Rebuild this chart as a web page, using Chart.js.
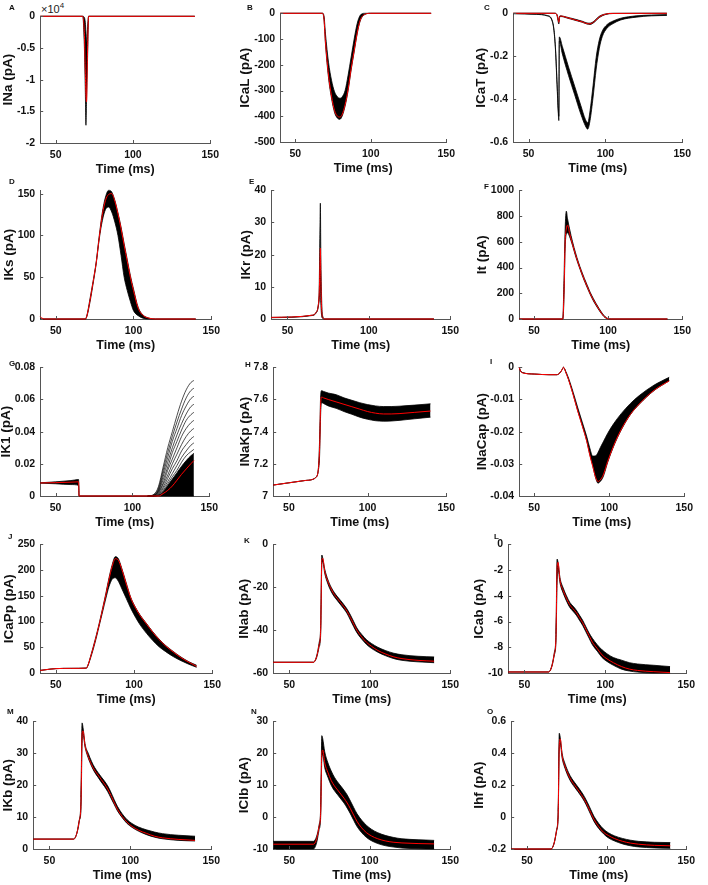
<!DOCTYPE html>
<html>
<head>
<meta charset="utf-8">
<title>Ionic currents</title>
<script src="https://cdn.jsdelivr.net/npm/chart.js@4.4.1/dist/chart.umd.min.js"></script>
<style>
  body { margin: 0; width: 708px; height: 885px; background: #fff; position: relative; overflow: hidden; font-family: "Liberation Sans", Arial, sans-serif; }
  canvas { position: absolute; }
  .tag { position: absolute; font-size: 8px; font-weight: bold; color: #111; }
  .exp { position: absolute; font-size: 11px; color: #222; }
  .exp sup { font-size: 8px; }
</style>
</head>
<body>
<div class="exp" style="left:41px;top:1px">×10<sup>4</sup></div>
<script>
const FONT = '"Liberation Sans", Arial, sans-serif';

// shared x axis (ms)
const xTicks = [50, 100, 150];
const xLabels = ['50', '100', '150'];

// A  INa
const aT = [40, 67.5, 68.6, 69.2, 69.6, 70.0, 70.5, 70.9, 71.3, 140];
const aLo = [0, 0, -5000, -12000, -17200, -13000, -8000, -4000, 0, 0];
const aHi = [0, 0, -200, -1000, -2500, -4000, -2500, -800, 0, 0];
const aRed = [0, 0, -3000, -9000, -12500, -13500, -7000, -2500, 0, 0];
const aTicks = [-20000, -15000, -10000, -5000, 0];
const aLabels = ['-2', '-1.5', '-1', '-0.5', '0'];

// B  ICaL
const bT = [40, 68, 69, 70, 72, 74, 76, 78, 79.5, 81, 83, 85, 87, 89, 91, 93, 96, 100, 140];
const bLo = [0, 0, -25, -120, -250, -330, -385, -408, -412, -400, -360, -300, -220, -150, -80, -30, -5, 0, 0];
const bHi = [0, 0, -10, -80, -190, -260, -305, -325, -330, -325, -300, -240, -170, -100, -40, -8, 0, 0, 0];
const bRed = [0, 0, -20, -112, -240, -322, -378, -400, -403, -394, -355, -295, -215, -145, -76, -27, -4, 0, 0];
const bTicks = [-500, -400, -300, -200, -100, 0];
const bLabels = ['-500', '-400', '-300', '-200', '-100', '0'];

// C  ICaT (large group + small group)
const cT = [40, 55, 62, 65, 66.5, 67.5, 68.5, 69.3, 69.7, 70.0, 72, 76, 80, 84, 87, 88.5, 90, 92, 94, 96, 98, 101, 105, 110, 120, 130, 140];
const cLo = [-0.002, -0.005, -0.012, -0.03, -0.08, -0.17, -0.33, -0.46, -0.50, -0.13, -0.19, -0.29, -0.38, -0.47, -0.525, -0.54, -0.50, -0.39, -0.26, -0.165, -0.108, -0.07, -0.048, -0.031, -0.018, -0.012, -0.01];
const cHi = [-0.001, -0.004, -0.01, -0.026, -0.074, -0.16, -0.315, -0.445, -0.48, -0.11, -0.155, -0.25, -0.34, -0.43, -0.495, -0.51, -0.455, -0.335, -0.205, -0.125, -0.082, -0.053, -0.036, -0.023, -0.012, -0.008, -0.006];
const c2T = [40, 67, 68.5, 69.3, 69.7, 70.2, 71, 75, 80, 85, 88, 90, 93, 96, 100, 105, 140];
const c2Lo = [0, 0, -0.01, -0.04, -0.05, -0.02, -0.015, -0.022, -0.032, -0.042, -0.05, -0.052, -0.04, -0.02, -0.006, -0.001, 0];
const c2Hi = [0, 0, -0.006, -0.025, -0.035, -0.013, -0.012, -0.018, -0.027, -0.037, -0.045, -0.046, -0.034, -0.014, -0.003, 0, 0];
const cRed = [0, 0, -0.008, -0.032, -0.042, -0.016, -0.013, -0.02, -0.03, -0.04, -0.048, -0.049, -0.037, -0.017, -0.004, -0.0005, 0];
const cTicks = [-0.6, -0.4, -0.2, 0];
const cLabels = ['-0.6', '-0.4', '-0.2', '0'];

// D  IKs
const dT = [40, 41, 43, 69, 70, 72, 74, 76, 78, 80, 82, 84, 86, 88, 90, 92, 94, 96, 98, 100, 103, 106, 110, 114, 140];
const dHi = [0, 0, 0, 0, 4, 24, 45, 68, 100, 128, 146, 154, 152, 142, 127, 110, 90, 71, 52, 36, 14, 5, 1, 0, 0];
const dLo = [0, 0, 0, 0, 3, 20, 42, 66, 96, 118, 131, 134, 128, 116, 100, 76, 50, 34, 21, 10, 4, 1, 0, 0, 0];
const dRed = [3, 1.2, 0, 0, 3.5, 22, 44, 67, 98, 125, 142, 149, 150, 141, 126, 108, 88, 69, 50, 34, 13, 4.5, 1, 0, 0];
const dTicks = [0, 50, 100, 150];
const dLabels = ['0', '50', '100', '150'];

// E  IKr
const eT = [40, 65.5, 67.5, 68.8, 69.5, 70.0, 70.2, 70.5, 71, 71.6, 73, 140];
const eHi = [0.5, 1.2, 2, 4, 10, 30, 36, 20, 6, 1, 0, 0];
const eLo = [0.4, 1.1, 1.8, 3.5, 6, 10, 12, 5, 1, 0.2, 0, 0];
const eRed = [0.5, 1.2, 2, 3.8, 8, 18, 22, 12, 3, 0.5, 0, 0];
const eTicks = [0, 10, 20, 30, 40];
const eLabels = ['0', '10', '20', '30', '40'];

// F  It
const fT = [40, 69.4, 70.2, 71, 71.8, 72.6, 74, 76, 78, 80, 82, 84, 86, 88, 90, 92, 94, 96, 98, 100, 102, 140];
const fHi = [0, 0, 300, 700, 838, 780, 700, 600, 515, 440, 375, 315, 260, 205, 160, 118, 80, 45, 18, 3, 0, 0];
const fLo = [0, 0, 150, 550, 660, 670, 640, 570, 490, 420, 355, 295, 240, 188, 142, 102, 66, 34, 10, 1, 0, 0];
const fRed = [0, 0, 200, 600, 700, 730, 665, 580, 500, 428, 363, 303, 248, 195, 150, 110, 72, 38, 13, 2, 0, 0];
const fTicks = [0, 200, 400, 600, 800, 1000];
const fLabels = ['0', '200', '400', '600', '800', '1000'];

// G  IK1 (dense band + fan of single traces)
const gT = [40, 50, 60, 65, 65.3, 110, 114, 117, 120, 123, 126, 129, 132, 135, 138, 140];
const gHi = [0.0082, 0.0088, 0.0096, 0.0102, 0, 0, 0, 0.0005, 0.0028, 0.0065, 0.0105, 0.0145, 0.0185, 0.022, 0.025, 0.0265];
const gLo = [0.008, 0.0076, 0.0071, 0.0066, 0, 0, 0, 0, 0, 0, 0, 0, 0, 0, 0, 0];
const gRed = [0.0081, 0.0083, 0.0086, 0.0088, 0, 0, 0, 0, 0.0015, 0.0035, 0.0062, 0.0098, 0.0135, 0.0168, 0.02, 0.022];
const gFanT = [110, 114, 117, 120, 123, 126, 129, 132, 135, 138, 140];
const gF1 = [0, 0.001, 0.006, 0.018, 0.030, 0.040, 0.050, 0.059, 0.066, 0.0705, 0.0718];
const gF2 = [0, 0.0008, 0.005, 0.016, 0.027, 0.037, 0.046, 0.054, 0.061, 0.0655, 0.067];
const gF3 = [0, 0.0006, 0.004, 0.014, 0.024, 0.034, 0.042, 0.050, 0.056, 0.0605, 0.062];
const gF4 = [0, 0.0004, 0.0035, 0.012, 0.021, 0.030, 0.038, 0.045, 0.051, 0.0555, 0.057];
const gF5 = [0, 0.0003, 0.003, 0.010, 0.018, 0.027, 0.034, 0.041, 0.047, 0.0505, 0.052];
const gF6 = [0, 0.0002, 0.0025, 0.008, 0.016, 0.023, 0.030, 0.037, 0.042, 0.0455, 0.047];
const gF7 = [0, 0.0001, 0.002, 0.007, 0.013, 0.020, 0.026, 0.032, 0.037, 0.0405, 0.042];
const gF8 = [0, 0, 0.0015, 0.0055, 0.011, 0.017, 0.022, 0.028, 0.032, 0.0355, 0.037];
const gF9 = [0, 0, 0.001, 0.0045, 0.009, 0.014, 0.019, 0.024, 0.028, 0.0315, 0.033];
const gF10 = [0, 0, 0.0008, 0.0035, 0.0075, 0.012, 0.016, 0.021, 0.025, 0.0275, 0.029];
const gTicks = [0, 0.02, 0.04, 0.06, 0.08];
const gLabels = ['0', '0.02', '0.04', '0.06', '0.08'];

// H  INaKp
const hT = [40, 50, 60, 65, 67, 68.5, 69.5, 70.2, 70.8, 72, 75, 80, 85, 90, 95, 100, 105, 110, 115, 120, 130, 140];
const hHi = [7.068, 7.082, 7.096, 7.103, 7.115, 7.15, 7.35, 7.63, 7.655, 7.65, 7.64, 7.63, 7.61, 7.595, 7.58, 7.568, 7.56, 7.556, 7.556, 7.558, 7.565, 7.573];
const hLo = [7.068, 7.082, 7.096, 7.103, 7.115, 7.15, 7.25, 7.52, 7.58, 7.575, 7.56, 7.545, 7.525, 7.508, 7.49, 7.477, 7.468, 7.465, 7.466, 7.47, 7.48, 7.49];
const hRed = [7.068, 7.082, 7.096, 7.103, 7.115, 7.15, 7.3, 7.58, 7.615, 7.61, 7.6, 7.585, 7.57, 7.555, 7.54, 7.525, 7.515, 7.51, 7.51, 7.512, 7.52, 7.528];
const hTicks = [7, 7.2, 7.4, 7.6, 7.8];
const hLabels = ['7', '7.2', '7.4', '7.6', '7.8'];

// I  INaCap
const iT = [40, 41, 42, 50, 60, 65, 67, 68.5, 69.5, 71, 73, 76, 79, 82, 85, 87, 89, 91, 92.5, 94, 96, 99, 103, 108, 114, 120, 130, 140];
const iLo = [0, -0.0012, -0.0016, -0.0021, -0.0023, -0.0023, -0.0018, -0.0008, 0, -0.0015, -0.004, -0.0085, -0.0135, -0.018, -0.0228, -0.027, -0.0305, -0.0345, -0.036, -0.0355, -0.034, -0.0295, -0.0245, -0.0195, -0.0148, -0.0115, -0.0072, -0.0042];
const iHi = [0, -0.0012, -0.0016, -0.0021, -0.0023, -0.0023, -0.0018, -0.0008, 0, -0.0012, -0.0035, -0.0078, -0.0125, -0.017, -0.0215, -0.025, -0.0276, -0.0275, -0.0265, -0.025, -0.0232, -0.0205, -0.0175, -0.0144, -0.0113, -0.0088, -0.0055, -0.0031];
const iRed = [0, -0.0013, -0.0017, -0.0021, -0.0023, -0.0023, -0.0018, -0.0008, 0, -0.0015, -0.004, -0.0086, -0.0136, -0.0182, -0.023, -0.0272, -0.0308, -0.0343, -0.0355, -0.035, -0.0335, -0.0292, -0.0243, -0.0193, -0.0147, -0.0114, -0.0071, -0.0042];
const iTicks = [-0.04, -0.03, -0.02, -0.01, 0];
const iLabels = ['-0.04', '-0.03', '-0.02', '-0.01', '0'];

// J  ICaPp
const jT = [40, 45, 50, 60, 69.5, 70.5, 72, 74, 76, 78, 80, 82, 84, 86, 88, 90, 92, 95, 98, 101, 104, 108, 112, 116, 120, 125, 130, 135, 140];
const jHi = [5, 7, 8.5, 9, 9.5, 15, 30, 52, 75, 100, 127, 155, 185, 210, 226, 222, 205, 175, 146, 127, 112, 96, 80, 66, 54, 42, 31, 22, 15];
const jLo = [5, 7, 8.5, 9, 9.5, 14, 27, 47, 70, 95, 120, 145, 168, 182, 185, 178, 165, 145, 125, 108, 93, 77, 63, 51, 42, 32, 24, 17, 11];
const jRed = [5, 7, 8.5, 9, 9.5, 15, 29, 50, 73, 98, 125, 152, 182, 207, 222, 219, 203, 173, 145, 126, 111, 95, 79, 65, 53, 41, 30, 21, 13];
const jTicks = [0, 50, 100, 150, 200, 250];
const jLabels = ['0', '50', '100', '150', '200', '250'];

// background currents K..O share one time base
const bgT = [40, 65, 67, 68.5, 69.5, 70.2, 70.8, 72, 74, 76, 78, 80, 82, 84, 86, 88, 90, 92, 95, 98, 101, 105, 110, 115, 120, 130, 140];

// K  INab
const kHi = [-55, -55, -52, -46, -38, -5, -6.5, -11.5, -16.5, -20, -22.5, -24.5, -26.3, -28.2, -30.3, -33, -36, -39, -42, -44.5, -46.2, -48, -49.6, -50.8, -51.5, -52.2, -52.5];
const kLo = [-55, -55, -52.8, -48, -42, -10, -8, -13.5, -18.5, -22, -24.5, -26.4, -28.3, -30.2, -32.4, -35.4, -38.4, -41.2, -44.2, -46.7, -48.5, -50.3, -52, -53.3, -54.1, -54.8, -55.2];
const kRed = [-55, -55, -52.4, -47, -40, -7.5, -6.5, -12.6, -17.4, -20.8, -23.5, -25.4, -27.3, -29.2, -31.4, -34.2, -37.2, -40.1, -43.2, -45.7, -47.5, -49.5, -51.2, -52.5, -53.3, -54.1, -54.5];
const kTicks = [-60, -40, -20, 0];
const kLabels = ['-60', '-40', '-20', '0'];

// L  ICab
const lHi = [-9.92, -9.92, -9.4, -8.4, -7.0, -1.15, -1.4, -2.6, -3.4, -4.0, -4.5, -4.8, -5.1, -5.5, -5.9, -6.4, -6.9, -7.3, -7.8, -8.2, -8.5, -8.8, -9.0, -9.2, -9.3, -9.4, -9.5];
const lLo = [-9.92, -9.92, -9.5, -8.6, -7.6, -3.0, -1.9, -3.0, -3.8, -4.4, -4.9, -5.2, -5.5, -5.9, -6.3, -6.8, -7.3, -7.8, -8.3, -8.8, -9.1, -9.4, -9.7, -9.85, -9.93, -10, -10];
const lRed = [-9.92, -9.92, -9.46, -8.5, -7.3, -1.9, -1.4, -2.8, -3.6, -4.2, -4.7, -5.0, -5.3, -5.7, -6.1, -6.6, -7.1, -7.6, -8.1, -8.6, -8.9, -9.2, -9.5, -9.7, -9.8, -9.9, -9.97];
const lTicks = [-10, -8, -6, -4, -2, 0];
const lLabels = ['-10', '-8', '-6', '-4', '-2', '0'];

// M  IKb
const mHi = [3.1, 3.1, 5, 9, 16, 39.5, 38, 33, 30, 27.5, 25.5, 24, 22.6, 21.3, 19.8, 17.8, 15.5, 13.4, 11, 9.2, 8, 6.9, 6, 5.3, 4.8, 4.3, 4.0];
const mLo = [3.1, 3.1, 5, 9, 12, 33, 36, 32, 28.5, 26, 24, 22.5, 21, 19.6, 18, 16, 14, 12, 9.8, 8.0, 6.8, 5.6, 4.5, 3.7, 3.2, 2.7, 2.5];
const mRed = [3.1, 3.1, 5, 9, 14, 36, 37, 32.5, 29, 26.5, 24.6, 23.2, 21.8, 20.4, 18.8, 16.8, 14.6, 12.5, 10.2, 8.4, 7.1, 5.9, 4.9, 4.0, 3.5, 3.0, 2.7];
const mTicks = [0, 10, 20, 30, 40];
const mLabels = ['0', '10', '20', '30', '40'];

// N  IClb
const nHi = [-7.6, -7.6, -6, -2.5, 3, 25.5, 24.5, 20.5, 17, 14.5, 12.5, 11, 9.7, 8.4, 6.9, 5, 3, 1.1, -1, -2.6, -3.8, -4.9, -5.8, -6.4, -6.8, -7.1, -7.3];
const nLo = [-10, -10, -8, -4, 0, 18, 19.5, 15.5, 12.5, 10, 8.3, 7, 5.7, 4.4, 2.8, 1, -1, -2.9, -4.9, -6.4, -7.4, -8.3, -9, -9.4, -9.7, -9.9, -10];
const nRed = [-8.5, -8.5, -6.8, -3, 1.5, 20, 21, 17, 14, 11.5, 9.8, 8.5, 7.2, 5.9, 4.4, 2.6, 0.6, -1.3, -3.4, -4.9, -5.9, -6.8, -7.5, -7.9, -8.1, -8.3, -8.4];
const nTicks = [-10, 0, 10, 20, 30];
const nLabels = ['-10', '0', '10', '20', '30'];

// O  Ihf
const oHi = [-0.2, -0.2, -0.16, -0.08, 0.03, 0.525, 0.5, 0.4, 0.33, 0.28, 0.243, 0.215, 0.188, 0.16, 0.128, 0.09, 0.047, 0.005, -0.04, -0.075, -0.098, -0.118, -0.134, -0.145, -0.152, -0.158, -0.16];
const oLo = [-0.2, -0.2, -0.165, -0.09, 0, 0.42, 0.46, 0.37, 0.3, 0.25, 0.213, 0.185, 0.158, 0.13, 0.098, 0.058, 0.015, -0.027, -0.072, -0.105, -0.13, -0.15, -0.168, -0.18, -0.187, -0.193, -0.196];
const oRed = [-0.2, -0.2, -0.162, -0.083, 0.016, 0.45, 0.49, 0.385, 0.313, 0.263, 0.226, 0.198, 0.17, 0.142, 0.11, 0.071, 0.028, -0.014, -0.06, -0.095, -0.115, -0.135, -0.152, -0.163, -0.17, -0.177, -0.18];
const oTicks = [-0.2, 0, 0.2, 0.4, 0.6];
const oLabels = ['-0.2', '0', '0.2', '0.4', '0.6'];

// x,y = top-left of plot area; w,h = plot size; tx,ty = panel letter
const panels = [
  { tag: 'A', tx: 12, ty: 8, x: 40, y: 16, w: 172, h: 128, title: 'INa (pA)', min: -20000, max: 0, ticks: aTicks, labels: aLabels, bands: [[aT, aLo, aHi]], red: [aT, aRed] },
  { tag: 'B', tx: 250, ty: 8, x: 280, y: 13, w: 168, h: 130, title: 'ICaL (pA)', min: -500, max: 0, ticks: bTicks, labels: bLabels, bands: [[bT, bLo, bHi]], red: [bT, bRed] },
  { tag: 'C', tx: 487, ty: 8, x: 513, y: 13, w: 171, h: 130, title: 'ICaT (pA)', min: -0.6, max: 0, ticks: cTicks, labels: cLabels, bands: [[cT, cLo, cHi], [c2T, c2Lo, c2Hi]], red: [c2T, cRed] },
  { tag: 'D', tx: 12, ty: 182, x: 40, y: 190, w: 173, h: 130, title: 'IKs (pA)', min: 0, max: 154, ticks: dTicks, labels: dLabels, bands: [[dT, dLo, dHi]], red: [dT, dRed] },
  { tag: 'E', tx: 252, ty: 182, x: 271, y: 190, w: 181, h: 130, title: 'IKr (pA)', min: 0, max: 40, ticks: eTicks, labels: eLabels, bands: [[eT, eLo, eHi]], red: [eT, eRed] },
  { tag: 'F', tx: 487, ty: 187, x: 519, y: 190, w: 165, h: 130, title: 'It (pA)', min: 0, max: 1000, ticks: fTicks, labels: fLabels, bands: [[fT, fLo, fHi]], red: [fT, fRed] },
  { tag: 'G', tx: 12, ty: 364, x: 40, y: 367, w: 171, h: 130, title: 'IK1 (pA)', min: 0, max: 0.08, ticks: gTicks, labels: gLabels, bands: [[gT, gLo, gHi]], red: [gT, gRed],
    lines: [gF1, gF2, gF3, gF4, gF5, gF6, gF7, gF8, gF9, gF10].map(v => [gFanT, v]) },
  { tag: 'H', tx: 248, ty: 365, x: 273, y: 367, w: 175, h: 130, title: 'INaKp (pA)', min: 7, max: 7.8, ticks: hTicks, labels: hLabels, bands: [[hT, hLo, hHi]], red: [hT, hRed] },
  { tag: 'I', tx: 493, ty: 362, x: 519, y: 367, w: 167, h: 130, title: 'INaCap (pA)', min: -0.04, max: 0, ticks: iTicks, labels: iLabels, bands: [[iT, iLo, iHi]], red: [iT, iRed] },
  { tag: 'J', tx: 11, ty: 537, x: 40, y: 544, w: 174, h: 130, title: 'ICaPp (pA)', min: 0, max: 250, ticks: jTicks, labels: jLabels, bands: [[jT, jLo, jHi]], red: [jT, jRed] },
  { tag: 'K', tx: 247, ty: 541, x: 273, y: 544, w: 179, h: 130, title: 'INab (pA)', min: -60, max: 0, ticks: kTicks, labels: kLabels, bands: [[bgT, kLo, kHi]], red: [bgT, kRed] },
  { tag: 'L', tx: 497, ty: 537, x: 508, y: 544, w: 180, h: 130, title: 'ICab (pA)', min: -10, max: 0, ticks: lTicks, labels: lLabels, bands: [[bgT, lLo, lHi]], red: [bgT, lRed] },
  { tag: 'M', tx: 10, ty: 712, x: 33, y: 721, w: 180, h: 129, title: 'IKb (pA)', min: 0, max: 40, ticks: mTicks, labels: mLabels, bands: [[bgT, mLo, mHi]], red: [bgT, mRed] },
  { tag: 'N', tx: 254, ty: 712, x: 273, y: 721, w: 179, h: 129, title: 'IClb (pA)', min: -10, max: 30, ticks: nTicks, labels: nLabels, bands: [[bgT, nLo, nHi]], red: [bgT, nRed] },
  { tag: 'O', tx: 490, ty: 712, x: 511, y: 721, w: 177, h: 129, title: 'Ihf (pA)', min: -0.2, max: 0.6, ticks: oTicks, labels: oLabels, bands: [[bgT, oLo, oHi]], red: [bgT, oRed] }
];

// matlab style inward tick marks
const inTicks = {
  id: 'inTicks',
  afterDraw(chart) {
    const { ctx, chartArea: a, scales: { x, y } } = chart;
    ctx.save();
    ctx.strokeStyle = '#555';
    ctx.lineWidth = 1;
    ctx.beginPath();
    x.ticks.forEach(t => {
      const p = Math.round(x.getPixelForValue(t.value)) + 0.5;
      ctx.moveTo(p, a.bottom); ctx.lineTo(p, a.bottom - 3);
    });
    y.ticks.forEach(t => {
      const p = Math.round(y.getPixelForValue(t.value)) + 0.5;
      ctx.moveTo(a.left, p); ctx.lineTo(a.left + 3, p);
    });
    ctx.stroke();
    ctx.restore();
  }
};

function line(t, v, color, width, order) {
  return {
    data: t.map((x, i) => ({ x: x, y: v[i] })),
    borderColor: color, borderWidth: width, pointRadius: 0, fill: false,
    order: order, clip: false, cubicInterpolationMode: 'monotone'
  };
}

const meas = document.createElement('canvas').getContext('2d');
meas.font = 'bold 10.5px ' + FONT;
const PT = 10, PR = 12, XH = 34, TPAD = 5, TSIZE = 13.5;
const tickFont = { family: FONT, weight: 'bold', size: 10.5 };
const xTitleFont = { family: FONT, weight: 'bold', size: 12.5 };
const yTitleFont = { family: FONT, weight: 'bold', size: TSIZE };

panels.forEach(p => {
  const labW = Math.max(...p.labels.map(s => meas.measureText(s).width));
  const yw = Math.ceil(labW) + TPAD + TSIZE * 1.2;
  const cw = Math.ceil(yw + p.w + PR), ch = PT + p.h + XH;
  const cv = document.createElement('canvas');
  cv.width = cw; cv.height = ch;
  cv.style.width = cw + 'px'; cv.style.height = ch + 'px';
  document.body.appendChild(cv);

  const ds = [];
  p.bands.forEach(([t, lo, hi]) => {
    ds.push(line(t, lo, '#000', 0.8, 2));
    const up = line(t, hi, '#000', 0.8, 2);
    up.fill = '-1';
    up.backgroundColor = '#000';
    ds.push(up);
  });
  (p.lines || []).forEach(([t, v]) => ds.push(line(t, v, '#000', 0.7, 1)));
  ds.push(line(p.red[0], p.red[1], '#ff0000', 1, 0));

  const chart = new Chart(cv, {
    type: 'line',
    data: { datasets: ds },
    options: {
      responsive: false, maintainAspectRatio: false, animation: false, events: [],
      layout: { padding: { top: PT, right: cw - yw - p.w, left: 0, bottom: 0 } },
      plugins: { legend: { display: false }, tooltip: { enabled: false } },
      scales: {
        x: {
          type: 'linear', min: 40, max: 150,
          grid: { display: false, drawTicks: false },
          border: { color: '#555', width: 1 },
          ticks: { autoSkip: false, maxRotation: 0, padding: 6, color: '#111', font: tickFont, callback: (v, i) => xLabels[i] },
          afterBuildTicks: s => { s.ticks = xTicks.map(v => ({ value: v })); },
          afterFit: s => { s.height = XH; },
          title: { display: true, text: 'Time (ms)', color: '#111', padding: 0, font: xTitleFont }
        },
        y: {
          type: 'linear', min: p.min, max: p.max,
          grid: { display: false, drawTicks: false },
          border: { color: '#555', width: 1 },
          ticks: { autoSkip: false, padding: TPAD, color: '#111', font: tickFont, callback: (v, i) => p.labels[i] },
          afterBuildTicks: s => { s.ticks = p.ticks.map(v => ({ value: v })); },
          afterFit: s => { s.width = yw; },
          title: { display: true, text: p.title, color: '#111', padding: 0, font: yTitleFont }
        }
      }
    },
    plugins: [inTicks]
  });

  // pin the plot area to the wanted spot
  const a = chart.chartArea;
  cv.style.left = (p.x - a.left) + 'px';
  cv.style.top = (p.y - a.top) + 'px';

  const tag = document.createElement('div');
  tag.className = 'tag';
  tag.textContent = p.tag;
  tag.style.left = (p.tx - 3) + 'px';
  tag.style.top = (p.ty - 5) + 'px';
  document.body.appendChild(tag);
});
</script>
</body>
</html>
